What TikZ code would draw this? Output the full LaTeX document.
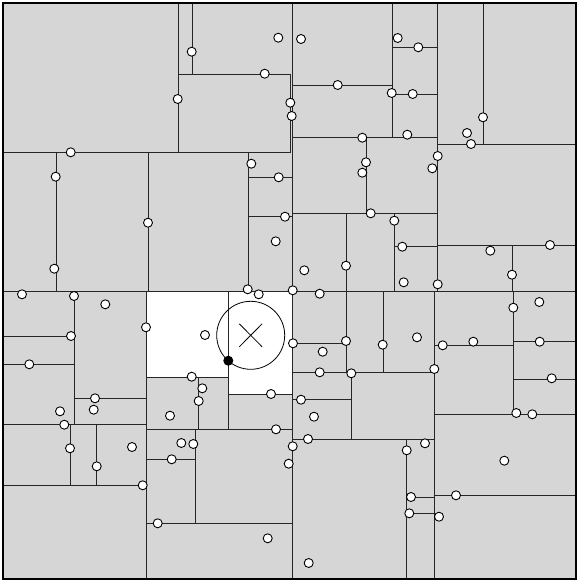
\documentclass[tikz,border=0pt]{standalone}
\definecolor{bg}{RGB}{214,214,214}
\begin{document}
\begin{tikzpicture}[x=1pt,y=-1pt,
  seg/.style={draw=black!85,line width=1pt},
  pt/.style={circle,draw=black,fill=white,line width=0.9pt,inner sep=0pt,minimum size=9pt},
  qpt/.style={circle,draw=black,fill=black,line width=0.9pt,inner sep=0pt,minimum size=9pt}]
\useasboundingbox (0,0) rectangle (577,581);
\fill[bg] (3,3) rectangle (576,579);
\fill[white] (146.7,291) -- (292,291) -- (292,394.3) -- (228.3,394.3) -- (228.3,377) -- (146.7,377) -- cycle;
% horizontal segments
\foreach \y/\a/\b in {74/178/290.5, 152/3/290.5, 177/248/292, 216.5/248/292, 291/3/576,
  85/292/392, 94/392/438, 47.3/392/438, 137.7/292/438, 144/438/576, 213.3/292/438,
  246.7/394.3/438, 245/438/576, 336/3/74, 364.3/3/74, 377/146.7/228.3, 394.3/228.3/292,
  398.3/74/146.7, 424.7/3/146.7, 429.3/146.7/292, 459.3/146.7/195, 485/3/146.7,
  523.3/146.7/292, 343.3/292/346, 372.5/292/434.3, 399.7/292/351.5, 439/292/434.3,
  345.3/434.3/513.3, 341.7/513.3/576, 379/513.3/576, 414.3/434.3/576, 495.3/434.3/576,
  497/406.7/434.3, 513.3/406.7/434.3}
  \draw[seg] (\a,\y) -- (\b,\y);
% vertical segments
\foreach \x/\a/\b in {178/3/152, 192/3/74, 290.5/74/152, 292/3/579, 56/152/291, 148/152/291,
  248/152/291, 392/3/137.7, 437.7/3/291, 483/3/144, 366/137.7/213.3, 394.3/213.3/291,
  346/213.3/372.5, 512/245/291, 74/291/424.7, 146.7/291/579, 228.3/291/429.3,
  198.3/377/429.3, 195/429.3/523.3, 70/424.7/485, 96.7/424.7/485, 383/291/372.5,
  434.3/291/579, 513.3/291/414.3, 351.5/372.5/439, 406.7/439/579}
  \draw[seg] (\x,\a) -- (\x,\b);
\draw[black,line width=1.2pt] (3,3) rectangle (576,579);
% query circle and cross
\node[circle,draw=black,line width=0.8pt,minimum size=68pt,inner sep=0pt] (q) at (250.7,335.3) {};
\draw[black,line width=0.8pt] (239.3,323.8) -- (262.1,346.8) (239.3,346.8) -- (262.1,323.8);
% data points
\foreach \x/\y [count=\i] in {191.7/51.7, 278.3/37.7, 301/39, 397.7/38, 418.3/47.3, 264.7/73.7,
  177.7/99, 290.3/102.7, 291.7/116, 337.7/85, 391.7/93, 412.7/94, 483/117.3, 467/133, 471/144,
  362.3/137.7, 407.3/134.7, 70.7/152.3, 437.7/156, 251.3/163.7, 366/162.3, 432.3/168.3,
  362.3/172.7, 55.7/176.7, 278.7/177.3, 148/222.7, 370.7/213.3, 285/216.7, 394.3/220.7,
  275.7/241.3, 402.3/246.7, 490.3/250.7, 550/245, 346/265.7, 304.3/270.3, 512/274.7,
  54.3/268.7, 403.7/282.3, 437.7/284.3, 22/294.3, 74/296, 105.3/304.3, 247.7/289.3,
  258.7/294.3, 292.7/290.3, 319.7/293.7, 513.3/307.7, 539.3/302, 146/327.3, 205/335,
  71/336, 293/343.3, 322.7/351.7, 346/341, 382.7/344.7, 417/337.3, 442.7/345.3, 473.3/341.7,
  539.7/341.7, 29.3/364.3, 434.3/369, 319.7/372.3, 351.3/373.3, 551.7/378.3, 191.7/376.7,
  202.3/388.3, 271/394, 95/398.3, 93.7/409.7, 198.7/401, 301/399.7, 60/411.3, 170/415.7,
  314/416.7, 516.3/413, 532.3/414.3, 64.3/424.7, 276/429.3, 181.3/443, 193.3/444, 308/439,
  292.7/446.3, 70/448.3, 132/447, 425/443.3, 406.7/450.3, 96.7/466.3, 171.7/459.3,
  288.7/463.7, 504.3/460.7, 142.7/485.3, 456/495.3, 411/497, 409.3/513.3, 439/516.7,
  157.7/523.3, 267.7/538.3, 308.7/563}
  \node[pt] (p\i) at (\x,\y) {};
\node[qpt] (nn) at (228.3,360.7) {};
\end{tikzpicture}
\end{document}
